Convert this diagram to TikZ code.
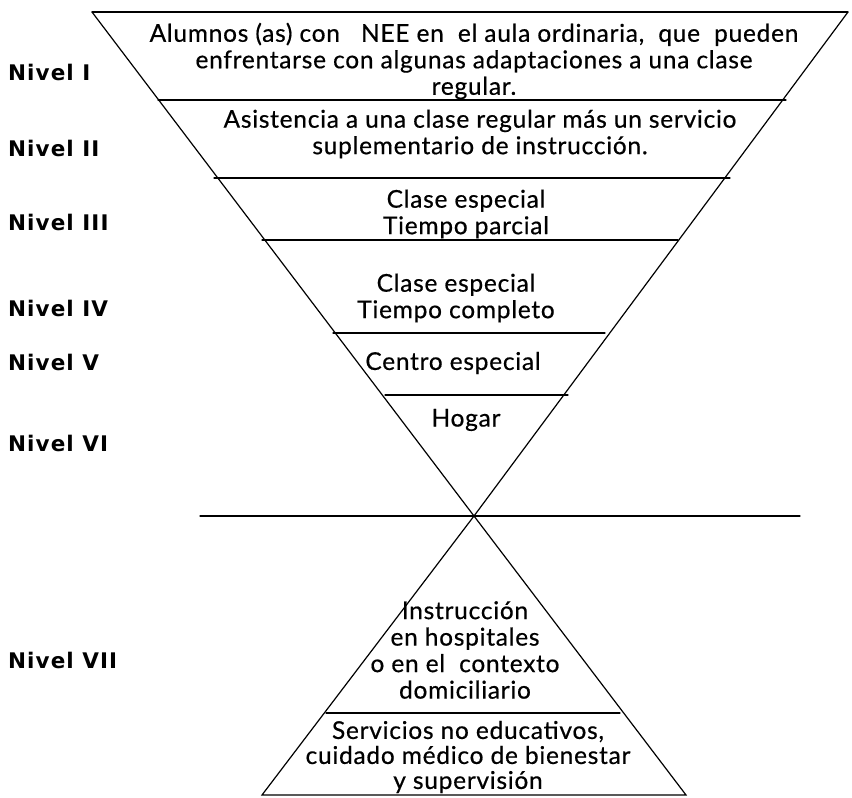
\documentclass[tikz,border=0pt]{standalone}
\usepackage{fontspec}
\setmainfont{Lato}[LetterSpace=3,FakeBold=0.5]
\newfontfamily\lvlfont{DejaVu Sans}[LetterSpace=5]
\begin{document}
\begin{tikzpicture}[x=1pt,y=-1pt,
  txt/.style={font=\fontsize{24.5}{26.5}\selectfont, inner sep=0pt, align=center},
  lvl/.style={font=\lvlfont\fontsize{21.5}{24}\selectfont\bfseries, anchor=west, inner sep=0pt},
  sep/.style={line width=1.2pt, line cap=round}]
\fill[white] (0,0) rectangle (852,798);
\useasboundingbox (0,0) rectangle (852,798);
% triangle corners
\coordinate (TL) at (92,12);
\coordinate (TR) at (848,12);
\coordinate (X) at (474,516);
\coordinate (BL) at (262,795);
\coordinate (BR) at (686,795);
\draw[sep] (TL) -- (TR);
\draw[sep] (TL) -- (X) -- (TR);
\draw[sep] (X) -- (BL) -- (BR) -- cycle;
% separators
\coordinate (a1) at (158,100); \coordinate (b1) at (786,100);
\coordinate (a2) at (214,178); \coordinate (b2) at (730,178);
\coordinate (a3) at (262,240); \coordinate (b3) at (678,240);
\coordinate (a4) at (333,333); \coordinate (b4) at (605,333);
\coordinate (a5) at (385,395); \coordinate (b5) at (568,395);
\coordinate (a6) at (200,516); \coordinate (b6) at (800,516);
\coordinate (a7) at (326,713); \coordinate (b7) at (620,713);
\foreach \i in {1,...,7} {\draw[sep] (a\i) -- (b\i);}
% texts
\node[txt] (t1) at (474,61) {Alumnos (as) con\ \ \ NEE en\ \ el aula ordinaria,\ \ que\ \ pueden\\ enfrentarse con algunas adaptaciones a una clase\\ regular.};
\node[txt] (t2) at (480,134) {Asistencia a una clase regular más un servicio\\ suplementario de instrucción.};
\node[txt] (t3) at (466,214) {Clase especial\\ Tiempo parcial};
\node[txt] (t4) at (456,298) {Clase especial\\ Tiempo completo};
\node[txt] (t5) at (453,363) {Centro especial};
\node[txt] (t6) at (466,420) {Hogar};
\node[txt] (t7) at (465,650) {Instrucción\\ en hospitales\\ o en el\ \ contexto\\ domiciliario};
\node[txt, font=\fontsize{24.5}{25}\selectfont] (t8) at (468,757) {Servicios no educativos,\\ cuidado médico de bienestar\\ y supervisión};
% level labels
\node[lvl] (n1) at (8,72) {Nivel I};
\node[lvl] (n2) at (8,148) {Nivel II};
\node[lvl] (n3) at (8,222) {Nivel III};
\node[lvl] (n4) at (8,308) {Nivel IV};
\node[lvl] (n5) at (8,362) {Nivel V};
\node[lvl] (n6) at (8,443) {Nivel VI};
\node[lvl] (n7) at (8,660) {Nivel VII};
\end{tikzpicture}
\end{document}
